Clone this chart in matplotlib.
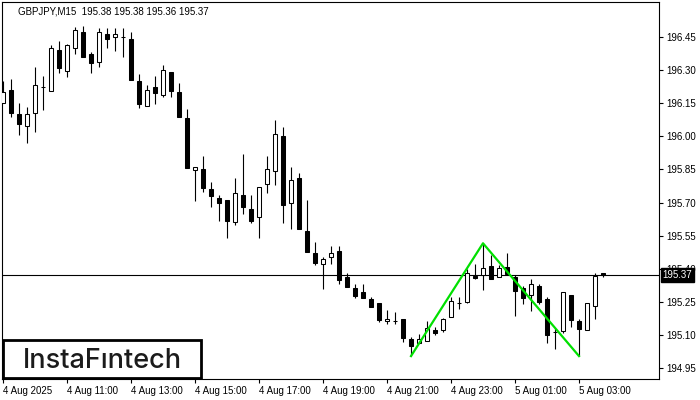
import matplotlib
matplotlib.use("Agg")
import matplotlib.pyplot as plt
from matplotlib.patches import Rectangle

plt.rcParams['font.family'] = ['Liberation Sans', 'DejaVu Sans']

# GBPJPY M15, 4 Aug 2025 09:00 -> 5 Aug 2025 03:45
title = "GBPJPY,M15  195.38 195.38 195.36 195.37"
opens = [196.152, 196.211, 196.102, 196.049, 196.108, 196.222, 196.208, 196.392, 196.298, 196.400,
         196.473, 196.374, 196.339, 196.465, 196.450, 196.450, 196.441, 196.252, 196.139, 196.224,
         196.189, 196.292, 196.202, 196.084, 195.849, 195.852, 195.761, 195.720, 195.711, 195.610,
         195.733, 195.669, 195.633, 195.783, 195.842, 196.001, 195.699, 195.810, 195.569, 195.469,
         195.419, 195.451, 195.478, 195.360, 195.310, 195.294, 195.261, 195.242, 195.161, 195.162,
         195.171, 195.079, 195.061, 195.070, 195.121, 195.121, 195.179, 195.245, 195.250, 195.368,
         195.370, 195.412, 195.360, 195.409, 195.363, 195.310, 195.279, 195.321, 195.263, 195.113,
         195.118, 195.280, 195.162, 195.121, 195.229, 195.380]
highs = [196.252, 196.261, 196.153, 196.132, 196.317, 196.274, 196.415, 196.435, 196.420, 196.495,
         196.501, 196.382, 196.491, 196.491, 196.491, 196.491, 196.473, 196.283, 196.233, 196.274,
         196.324, 196.292, 196.244, 196.123, 195.861, 195.911, 195.793, 195.734, 195.711, 195.811,
         195.920, 195.733, 195.769, 195.911, 196.075, 196.043, 195.861, 195.833, 195.711, 195.519,
         195.451, 195.503, 195.503, 195.381, 195.329, 195.330, 195.272, 195.242, 195.212, 195.203,
         195.171, 195.088, 195.102, 195.161, 195.136, 195.174, 195.272, 195.272, 195.397, 195.419,
         195.515, 195.462, 195.416, 195.469, 195.371, 195.321, 195.351, 195.330, 195.272, 195.129,
         195.294, 195.280, 195.171, 195.242, 195.379, 195.380]
lows = [196.150, 196.090, 196.006, 195.971, 196.021, 196.120, 196.208, 196.289, 196.271, 196.373,
        196.362, 196.289, 196.314, 196.400, 196.389, 196.362, 196.256, 196.130, 196.139, 196.147,
        196.180, 196.180, 196.090, 195.858, 195.707, 195.749, 195.681, 195.617, 195.540, 195.599,
        195.649, 195.608, 195.540, 195.742, 195.781, 195.608, 195.581, 195.581, 195.477, 195.418,
        195.307, 195.419, 195.329, 195.318, 195.268, 195.268, 195.224, 195.158, 195.150, 195.150,
        195.068, 195.003, 195.061, 195.070, 195.098, 195.111, 195.179, 195.218, 195.242, 195.351,
        195.303, 195.351, 195.360, 195.374, 195.185, 195.239, 195.207, 195.239, 195.061, 195.035,
        195.109, 195.136, 195.003, 195.121, 195.170, 195.360]
closes = [196.202, 196.108, 196.056, 196.100, 196.233, 196.224, 196.400, 196.312, 196.415, 196.483,
          196.362, 196.332, 196.473, 196.441, 196.464, 196.450, 196.256, 196.147, 196.211, 196.198,
          196.302, 196.208, 196.090, 195.858, 195.861, 195.767, 195.731, 195.699, 195.617, 195.742,
          195.681, 195.617, 195.769, 195.851, 196.010, 195.690, 195.801, 195.581, 195.477, 195.427,
          195.442, 195.469, 195.348, 195.318, 195.276, 195.268, 195.227, 195.167, 195.171, 195.162,
          195.086, 195.050, 195.079, 195.129, 195.109, 195.170, 195.253, 195.245, 195.379, 195.359,
          195.401, 195.351, 195.401, 195.374, 195.300, 195.268, 195.330, 195.250, 195.098, 195.113,
          195.294, 195.167, 195.127, 195.242, 195.368, 195.370]
last_price = 195.37

# double bottom: low, peak, low
pattern_bars = [51, 60, 72]

tick_bars = [0, 8, 16, 24, 32, 40, 48, 56, 64, 72]
tick_labels = ["4 Aug 2025", "4 Aug 11:00", "4 Aug 13:00", "4 Aug 15:00", "4 Aug 17:00",
               "4 Aug 19:00", "4 Aug 21:00", "4 Aug 23:00", "5 Aug 01:00", "5 Aug 03:00"]
price_ticks = [194.95, 195.10, 195.25, 195.40, 195.55, 195.70, 195.85, 196.00, 196.15, 196.30, 196.45]

fig = plt.figure(figsize=(7, 4), dpi=100)
ax = fig.add_axes([2/700, 21/400, 657/700, 377/400])

ax.axhline(last_price, color='black', lw=0.8, zorder=1)

for i in range(len(opens)):
    o, h, l, c = opens[i], highs[i], lows[i], closes[i]
    ax.vlines(i, l, h, color='black', lw=0.8, zorder=2)
    lo, hi = min(o, c), max(o, c)
    face = 'white' if c > o else 'black'
    ax.add_patch(Rectangle((i - 0.25, lo), 0.5, hi - lo, facecolor=face,
                           edgecolor='black', lw=0.75, zorder=3))

px = [pattern_bars[0], pattern_bars[1], pattern_bars[2]]
py = [lows[px[0]], highs[px[1]], lows[px[2]]]
ax.plot(px, py, color='#00e000', lw=1.6, zorder=4)

ax.set_xlim(-0.125, 82)
ax.set_ylim(194.899, 196.610)

ax.yaxis.tick_right()
ax.set_yticks(price_ticks)
ax.set_yticklabels(["%.2f" % p for p in price_ticks])
ax.set_xticks(tick_bars)
ax.set_xticklabels(tick_labels, ha='left')
ax.tick_params(axis='y', direction='out', length=3, width=0.8, pad=2, labelsize=7)
ax.tick_params(axis='x', direction='out', length=3, width=0.8, pad=2, labelsize=7)
for s in ax.spines.values():
    s.set_linewidth(0.8)

ax.text(0.025, 0.976, title, transform=ax.transAxes, fontsize=7, va='center', ha='left')

ax.annotate("%.2f" % last_price, xy=(1, last_price), xycoords=('axes fraction', 'data'),
            xytext=(2.5, 0), textcoords='offset points', va='center', ha='left',
            color='white', fontsize=7, annotation_clip=False,
            bbox=dict(boxstyle='square,pad=0.2', fc='black', ec='black'))

# logo box
fig.add_artist(Rectangle((3/700, 21.7/400), 198/700, 38/400, transform=fig.transFigure,
                         facecolor='white', edgecolor='black', lw=2, zorder=5))
fig.text(102/700, 31.7/400, "InstaF\u0131ntech", fontsize=19.5, family='Inter',
         weight='medium', ha='center', va='baseline', color='#1b1b1b', zorder=6)

fig.savefig('out.png', dpi=100)
